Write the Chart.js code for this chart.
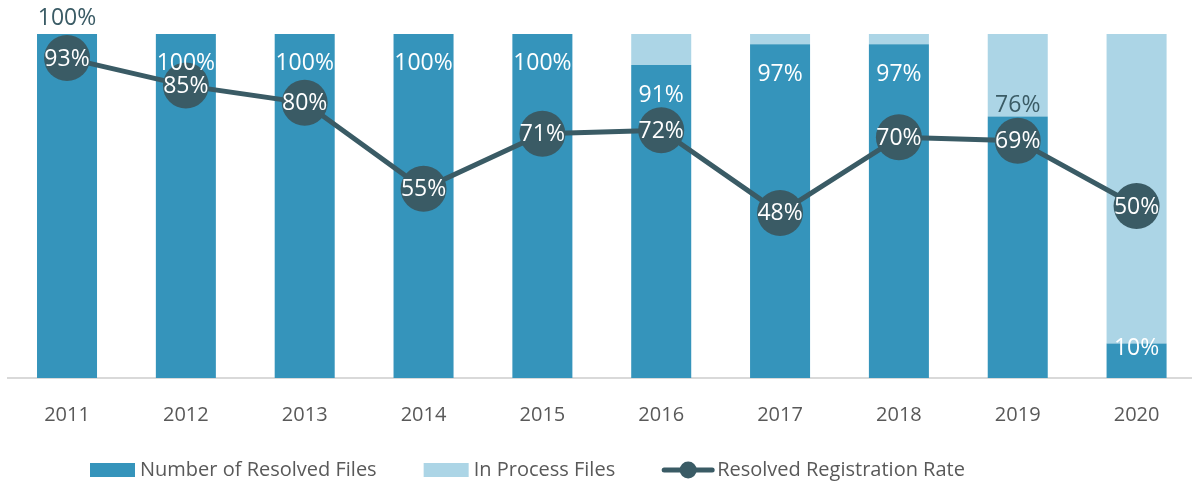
<!DOCTYPE html>
<html>
<head>
<meta charset="utf-8">
<script src="https://cdn.jsdelivr.net/npm/chart.js@4"></script>
<style>
  html, body { margin: 0; padding: 0; background: #fff; overflow: hidden; }
  #wrap { position: relative; width: 1196px; height: 484px; }
</style>
</head>
<body>
<div id="wrap"><canvas id="files-chart"></canvas></div>
<script>
const years = ['2011', '2012', '2013', '2014', '2015', '2016', '2017', '2018', '2019', '2020'];
const resolvedFiles = [100, 100, 100, 100, 100, 91, 97, 97, 76, 10];
const inProcessFiles = [0, 0, 0, 0, 0, 9, 3, 3, 24, 90];
const registrationRate = [93, 85, 80, 55, 71, 72, 48, 70, 69, 50];

const darkBlue = '#3594bb';
const lightBlue = '#acd5e6';
const slate = '#3a5b65';
const textGray = '#595959';
const fontFamily = "'Open Sans', sans-serif";

// where the resolved-files label sits, px from the top of the dark bar (negative = above)
const resolvedLabelOffset = [-16, 29, 29, 29, 29, 30, 30, 30, -11, 5];

Chart.defaults.font.family = fontFamily;

const valueLabels = {
    id: 'valueLabels',
    afterDatasetsDraw(chart) {
        const ctx = chart.ctx;
        ctx.save();
        ctx.font = '23px ' + fontFamily;
        ctx.textAlign = 'center';
        ctx.textBaseline = 'middle';

        // resolved files labels
        chart.getDatasetMeta(0).data.forEach(function (bar, i) {
            const off = resolvedLabelOffset[i];
            ctx.fillStyle = off < 0 ? slate : '#ffffff';
            ctx.fillText(resolvedFiles[i] + '%', bar.x, bar.y + off);
        });

        // rate labels on the markers
        ctx.fillStyle = '#ffffff';
        chart.getDatasetMeta(2).data.forEach(function (pt, i) {
            ctx.fillText(registrationRate[i] + '%', pt.x, pt.y + 1);
        });
        ctx.restore();
    }
};

const customLegend = {
    id: 'customLegend',
    afterDraw(chart) {
        const ctx = chart.ctx;
        const y = 470;
        let x = 90;
        ctx.save();
        ctx.font = '20px ' + fontFamily;
        ctx.textBaseline = 'middle';
        ctx.textAlign = 'left';

        const items = [
            { text: 'Number of Resolved Files', kind: 'box', color: darkBlue },
            { text: 'In Process Files', kind: 'box', color: lightBlue },
            { text: 'Resolved Registration Rate', kind: 'line', color: slate }
        ];
        items.forEach(function (item) {
            if (item.kind === 'box') {
                ctx.fillStyle = item.color;
                ctx.fillRect(x, y - 7, 45, 14);
                x += 50;
            } else {
                ctx.strokeStyle = item.color;
                ctx.lineWidth = 5;
                ctx.lineCap = 'round';
                ctx.beginPath();
                ctx.moveTo(x + 2, y);
                ctx.lineTo(x + 50, y);
                ctx.stroke();
                ctx.fillStyle = item.color;
                ctx.beginPath();
                ctx.arc(x + 26, y, 8.5, 0, Math.PI * 2);
                ctx.fill();
                x += 55;
            }
            ctx.fillStyle = textGray;
            ctx.fillText(item.text, x, y);
            x += ctx.measureText(item.text).width + 47;
        });
        ctx.restore();
    }
};

const config = {
    type: 'bar',
    data: {
        labels: years,
        datasets: [
            {
                label: 'Number of Resolved Files',
                data: resolvedFiles,
                backgroundColor: darkBlue,
                stack: 'files',
                order: 2
            },
            {
                label: 'In Process Files',
                data: inProcessFiles,
                backgroundColor: lightBlue,
                stack: 'files',
                order: 2
            },
            {
                type: 'line',
                label: 'Resolved Registration Rate',
                data: registrationRate,
                yAxisID: 'y2',
                borderColor: slate,
                borderWidth: 5,
                pointRadius: 23,
                pointHoverRadius: 23,
                pointBackgroundColor: slate,
                pointBorderWidth: 0,
                tension: 0,
                clip: false,
                order: 0
            }
        ]
    },
    options: {
        responsive: true,
        maintainAspectRatio: false,
        animation: false,
        datasets: {
            bar: {
                barPercentage: 0.505,
                categoryPercentage: 1
            }
        },
        layout: {
            autoPadding: false,
            padding: { top: 34, left: 7.6, right: 0, bottom: 32 }
        },
        scales: {
            x: {
                stacked: true,
                grid: { display: false, drawTicks: false },
                border: { display: true, color: '#d9d9d9', width: 2 },
                ticks: {
                    color: textGray,
                    padding: 25,
                    font: { size: 20 }
                }
            },
            y: {
                stacked: true,
                min: 0,
                max: 100,
                display: false
            },
            y2: {
                min: 0,
                max: 100,
                display: false
            }
        },
        plugins: {
            legend: { display: false },
            tooltip: { enabled: false }
        }
    },
    plugins: [valueLabels, customLegend]
};

const chart = new Chart('files-chart', config);
</script>
</body>
</html>
